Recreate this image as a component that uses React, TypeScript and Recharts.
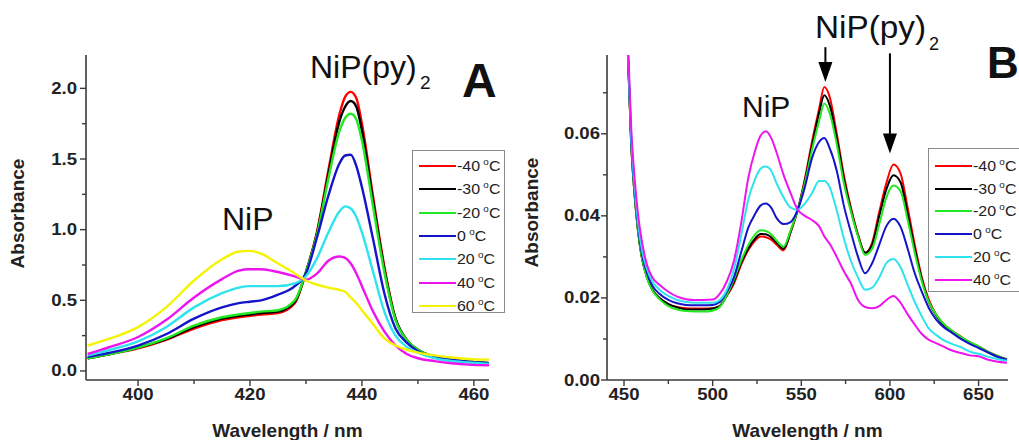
import React from 'react';
import { LineChart, Line, XAxis, YAxis, ReferenceLine, Label, Legend } from 'recharts';

// ---------------- Panel A data ----------------
const wavelengthsA = [391, 395, 400, 405, 410, 415, 418, 420, 422, 425, 428, 430, 432, 434, 436, 437, 438, 439, 440, 442, 444, 446, 448, 450, 453, 456, 459, 462.7];
const absA_m40 = [0.09, 0.12, 0.16, 0.22, 0.30, 0.36, 0.38, 0.39, 0.40, 0.41, 0.48, 0.70, 0.99, 1.42, 1.82, 1.94, 1.975, 1.93, 1.75, 1.23, 0.74, 0.37, 0.22, 0.15, 0.10, 0.08, 0.065, 0.055];
const absA_m30 = [0.09, 0.12, 0.165, 0.225, 0.31, 0.37, 0.39, 0.40, 0.41, 0.42, 0.49, 0.70, 0.98, 1.39, 1.77, 1.87, 1.91, 1.87, 1.70, 1.20, 0.72, 0.37, 0.22, 0.15, 0.10, 0.08, 0.065, 0.055];
const absA_m20 = [0.09, 0.12, 0.165, 0.23, 0.32, 0.38, 0.40, 0.41, 0.42, 0.43, 0.50, 0.70, 0.97, 1.36, 1.70, 1.79, 1.82, 1.78, 1.63, 1.16, 0.70, 0.36, 0.22, 0.15, 0.10, 0.08, 0.065, 0.055];
const absA_0 = [0.10, 0.13, 0.18, 0.26, 0.37, 0.45, 0.48, 0.49, 0.50, 0.54, 0.60, 0.69, 0.95, 1.24, 1.47, 1.525, 1.53, 1.45, 1.30, 0.93, 0.55, 0.30, 0.20, 0.14, 0.10, 0.08, 0.065, 0.055];
const absA_20 = [0.11, 0.15, 0.21, 0.31, 0.45, 0.55, 0.59, 0.60, 0.60, 0.60, 0.62, 0.67, 0.80, 0.98, 1.13, 1.165, 1.15, 1.09, 0.98, 0.70, 0.42, 0.25, 0.17, 0.13, 0.09, 0.07, 0.06, 0.05];
const absA_40 = [0.12, 0.17, 0.24, 0.36, 0.52, 0.65, 0.71, 0.72, 0.72, 0.70, 0.67, 0.645, 0.69, 0.78, 0.81, 0.80, 0.76, 0.69, 0.60, 0.42, 0.28, 0.18, 0.12, 0.09, 0.07, 0.055, 0.045, 0.04];
const absA_60 = [0.18, 0.23, 0.31, 0.45, 0.64, 0.79, 0.845, 0.85, 0.83, 0.76, 0.69, 0.64, 0.61, 0.59, 0.573, 0.56, 0.52, 0.48, 0.43, 0.33, 0.23, 0.18, 0.15, 0.13, 0.11, 0.095, 0.085, 0.08];

const xTicksA = [400, 410, 420, 430, 440, 450, 460];
const xMajorA = [400, 420, 440, 460];
const yTicksA = [0, 0.25, 0.5, 0.75, 1.0, 1.25, 1.5, 1.75, 2.0];
const yMajorA = [0, 0.5, 1.0, 1.5, 2.0];

// ---------------- Panel B data ----------------
const wavelengthsB = [450, 452, 454, 456, 458, 460, 463, 466, 470, 475, 480, 485, 490, 495, 500, 504, 508, 512, 516, 520, 524, 527, 530, 533, 536, 540, 544, 548, 552, 556, 560, 563, 566, 570, 574, 578, 582, 586, 590, 594, 598, 602, 606, 610, 614, 618, 622, 626, 630, 635, 640, 645, 650, 655, 660, 666];
const absB_m40 = [0.11, 0.082, 0.058, 0.045, 0.036, 0.030, 0.025, 0.022, 0.020, 0.0185, 0.0178, 0.0175, 0.0174, 0.0174, 0.0175, 0.018, 0.0205, 0.0235, 0.028, 0.0316, 0.034, 0.035, 0.0348, 0.0342, 0.033, 0.0316, 0.036, 0.0415, 0.049, 0.058, 0.066, 0.0714, 0.069, 0.060, 0.050, 0.042, 0.0355, 0.031, 0.0335, 0.041, 0.048, 0.0525, 0.0503, 0.042, 0.033, 0.025, 0.0195, 0.016, 0.0138, 0.012, 0.0106, 0.0092, 0.0082, 0.007, 0.006, 0.005];
const absB_m30 = [0.11, 0.082, 0.058, 0.045, 0.036, 0.030, 0.025, 0.022, 0.020, 0.0185, 0.0177, 0.0172, 0.0172, 0.0172, 0.0174, 0.018, 0.0207, 0.024, 0.0285, 0.032, 0.0345, 0.0356, 0.0355, 0.0348, 0.0335, 0.032, 0.0362, 0.0415, 0.0485, 0.057, 0.065, 0.0694, 0.067, 0.059, 0.049, 0.0415, 0.0352, 0.031, 0.033, 0.040, 0.0465, 0.0499, 0.0482, 0.0405, 0.032, 0.0245, 0.019, 0.0158, 0.0135, 0.0118, 0.0103, 0.009, 0.008, 0.0068, 0.0058, 0.0049];
const absB_m20 = [0.11, 0.082, 0.058, 0.045, 0.036, 0.030, 0.0248, 0.0218, 0.0197, 0.018, 0.0172, 0.0168, 0.0167, 0.0167, 0.0169, 0.0178, 0.0207, 0.0245, 0.029, 0.0328, 0.0355, 0.0365, 0.0363, 0.0355, 0.034, 0.0325, 0.0365, 0.0415, 0.048, 0.056, 0.063, 0.0674, 0.065, 0.0575, 0.048, 0.041, 0.035, 0.0305, 0.032, 0.038, 0.0445, 0.0474, 0.046, 0.039, 0.031, 0.024, 0.019, 0.016, 0.0138, 0.012, 0.0105, 0.0093, 0.0082, 0.007, 0.006, 0.005];
const absB_0 = [0.11, 0.082, 0.059, 0.046, 0.037, 0.031, 0.026, 0.023, 0.021, 0.0195, 0.0187, 0.0183, 0.0182, 0.0182, 0.0183, 0.019, 0.0215, 0.025, 0.031, 0.037, 0.0405, 0.0425, 0.043, 0.042, 0.0395, 0.038, 0.0385, 0.0415, 0.047, 0.054, 0.058, 0.059, 0.0565, 0.051, 0.0425, 0.036, 0.030, 0.026, 0.0285, 0.033, 0.0375, 0.0393, 0.0373, 0.032, 0.026, 0.0215, 0.0175, 0.0148, 0.013, 0.0115, 0.010, 0.0088, 0.0078, 0.0068, 0.0058, 0.005];
const absB_20 = [0.11, 0.083, 0.060, 0.047, 0.038, 0.032, 0.027, 0.024, 0.022, 0.0205, 0.0195, 0.019, 0.0188, 0.0188, 0.0188, 0.0195, 0.022, 0.027, 0.035, 0.0438, 0.049, 0.0515, 0.052, 0.051, 0.048, 0.0445, 0.042, 0.0415, 0.043, 0.0455, 0.0485, 0.0485, 0.047, 0.0413, 0.0345, 0.029, 0.025, 0.022, 0.0225, 0.025, 0.0285, 0.0295, 0.0275, 0.0232, 0.019, 0.0155, 0.0125, 0.011, 0.0098, 0.0088, 0.008, 0.0069, 0.0064, 0.0057, 0.0052, 0.0047];
const absB_40 = [0.11, 0.085, 0.062, 0.049, 0.040, 0.034, 0.028, 0.025, 0.0232, 0.0215, 0.0203, 0.0197, 0.0195, 0.0195, 0.0196, 0.021, 0.024, 0.029, 0.038, 0.049, 0.056, 0.0595, 0.0606, 0.059, 0.0555, 0.050, 0.0455, 0.0415, 0.040, 0.039, 0.0375, 0.035, 0.0332, 0.030, 0.0265, 0.0235, 0.0195, 0.0178, 0.0175, 0.018, 0.0195, 0.0205, 0.0188, 0.016, 0.0135, 0.0112, 0.0098, 0.009, 0.0082, 0.0072, 0.0066, 0.006, 0.0058, 0.005, 0.0045, 0.0042];

const xTicksB = [450, 475, 500, 525, 550, 575, 600, 625, 650];
const xMajorB = [450, 500, 550, 600, 650];
const yTicksB = [0, 0.01, 0.02, 0.03, 0.04, 0.05, 0.06, 0.07];
const yMajorB = [0, 0.02, 0.04, 0.06];

const tempLabelsA = ['-40', '-30', '-20', '0', '20', '40', '60'];
const tempLabelsB = ['-40', '-30', '-20', '0', '20', '40'];
const colors = ['#ff0000', '#000000', '#22e822', '#1414c8', '#2ee3ee', '#ee14ee', '#f4f400'];

const seriesA = [absA_m40, absA_m30, absA_m20, absA_0, absA_20, absA_40, absA_60];
const seriesB = [absB_m40, absB_m30, absB_m20, absB_0, absB_20, absB_40];

const buildRows = (xs: number[], series: number[][]) =>
  xs.map((x, i) => {
    const row: Record<string, number> = { x };
    series.forEach((s, k) => {
      row['s' + k] = s[i];
    });
    return row;
  });

const dataA = buildRows(wavelengthsA, seriesA);
const dataB = buildRows(wavelengthsB, seriesB);

const FONT = '"Liberation Sans", Arial, Helvetica, sans-serif';
const AXIS = '#3a3a3a';
const isMajor = (list: number[], v: number) => list.some((m) => Math.abs(m - v) < 1e-9);

const makeXTick = (majors: number[]) => (props: any) => {
  const { x, y, payload } = props;
  const v = payload.value;
  const major = isMajor(majors, v);
  return (
    <g>
      <line x1={x} y1={y} x2={x} y2={y + (major ? 6 : 4)} stroke={AXIS} strokeWidth={1.4} />
      {major && (
        <g transform={`translate(${x},${y + 20}) scale(1.16,1)`}>
          <text x={0} y={0} textAnchor="middle" fontSize={16} fontWeight="bold" fontFamily={FONT} fill="#222">
            {String(v)}
          </text>
        </g>
      )}
    </g>
  );
};

const makeYTick = (majors: number[], digits: number, gap: number) => (props: any) => {
  const { x, y, payload } = props;
  const v = payload.value;
  const major = isMajor(majors, v);
  return (
    <g>
      <line x1={x - (major ? 6 : 4)} y1={y} x2={x} y2={y} stroke={AXIS} strokeWidth={1.4} />
      {major && (
        <g transform={`translate(${x - gap},${y + 5.5}) scale(1.16,1)`}>
          <text x={0} y={0} textAnchor="end" fontSize={16} fontWeight="bold" fontFamily={FONT} fill="#222">
            {v.toFixed(digits)}
          </text>
        </g>
      )}
    </g>
  );
};

const makeYTitle = (dx: number, dy: number) => (props: any) => {
  const vb = props.viewBox || {};
  const cx = vb.x + dx;
  const cy = vb.y + vb.height / 2 + dy;
  return (
    <text
      transform={`translate(${cx},${cy}) rotate(-90)`}
      textAnchor="middle"
      dominantBaseline="central"
      fontSize={19}
      fontWeight="bold"
      fontFamily={FONT}
      fill="#222"
    >
      Absorbance
    </text>
  );
};

const makeXTitle = () => (props: any) => {
  const vb = props.viewBox || {};
  return (
    <text x={vb.x + vb.width / 2} y={vb.y + 57} textAnchor="middle" fontSize={19} fontWeight="bold" fontFamily={FONT} fill="#222">
      Wavelength / nm
    </text>
  );
};

const makeLegend = (labels: string[], first: number, step: number) => () => (
  <div
    style={{
      width: '100%',
      height: '100%',
      boxSizing: 'border-box',
      border: '1px solid #8a8a8a',
      background: '#fff',
      position: 'relative',
      fontFamily: FONT,
    }}
  >
    {labels.map((lab, i) => (
      <div
        key={lab}
        style={{
          position: 'absolute',
          left: 6,
          top: first + i * step - 9,
          height: 18,
          display: 'flex',
          alignItems: 'center',
          whiteSpace: 'nowrap',
        }}
      >
        <span style={{ display: 'inline-block', width: 37, height: 0, borderTop: `2.5px solid ${colors[i]}` }} />
        <span style={{ marginLeft: 1, fontSize: 14.5, color: '#222', display: 'inline-block', transform: 'scaleX(1.1)', transformOrigin: 'left center' }}>
          {lab}
          <span style={{ fontSize: 9, position: 'relative', top: -6, marginLeft: 3 }}>o</span>C
        </span>
      </div>
    ))}
  </div>
);

const Arrow = (props: any) => {
  const { x1, y1, x2, y2 } = props;
  const head = 20;
  const hw = 7;
  return (
    <g>
      <line x1={x1} y1={y1} x2={x2} y2={y2 - head + 2} stroke="#000" strokeWidth={2} />
      <polygon points={`${x2 - hw},${y2 - head} ${x2 + hw},${y2 - head} ${x2},${y2}`} fill="#000" />
    </g>
  );
};

const txt = { fontFamily: FONT, fill: '#111' } as const;

export default function App() {
  return (
    <div style={{ position: 'absolute', left: 0, top: 0, width: 1019, height: 440, background: '#fff', overflow: 'hidden' }}>
      <div style={{ position: 'absolute', left: 0, top: 0 }}>
        <LineChart width={510} height={440} data={dataA} margin={{ top: 55, right: 21, bottom: 0, left: 6 }}>
          <XAxis
            dataKey="x"
            type="number"
            domain={[390.7, 462.7]}
            allowDataOverflow
            ticks={xTicksA}
            interval={0}
            height={60}
            tickSize={0}
            tickMargin={0}
            tickLine={false}
            axisLine={{ stroke: AXIS, strokeWidth: 1.6 }}
            tick={makeXTick(xMajorA)}
          >
            <Label content={makeXTitle()} />
          </XAxis>
          <YAxis
            type="number"
            domain={[-0.064, 2.236]}
            allowDataOverflow
            ticks={yTicksA}
            interval={0}
            width={80}
            tickSize={0}
            tickMargin={0}
            tickLine={false}
            axisLine={{ stroke: AXIS, strokeWidth: 1.6 }}
            tick={makeYTick(yMajorA, 1, 9)}
          >
            <Label content={makeYTitle(11, -4)} />
          </YAxis>
          <Legend
            layout="vertical"
            align="center"
            verticalAlign="middle"
            content={makeLegend(tempLabelsA, 15, 23.3)}
            wrapperStyle={{ position: 'absolute', left: 412, top: 150, width: 93, height: 163 }}
          />
          {seriesA.map((_, k) => (
            <Line
              key={k}
              dataKey={'s' + k}
              type="monotone"
              stroke={colors[k]}
              strokeWidth={2.4}
              dot={false}
              isAnimationActive={false}
              legendType="line"
            />
          ))}
        </LineChart>
      </div>
      <div style={{ position: 'absolute', left: 510, top: 0 }}>
        <LineChart width={509} height={440} data={dataB} margin={{ top: 55, right: 11, bottom: 0, left: 17 }}>
          <XAxis
            dataKey="x"
            type="number"
            domain={[440.4, 666.6]}
            allowDataOverflow
            ticks={xTicksB}
            interval={0}
            height={60}
            tickSize={0}
            tickMargin={0}
            tickLine={false}
            axisLine={{ stroke: AXIS, strokeWidth: 1.6 }}
            tick={makeXTick(xMajorB)}
          >
            <Label content={makeXTitle()} />
          </XAxis>
          <YAxis
            type="number"
            domain={[0, 0.0792]}
            allowDataOverflow
            ticks={yTicksB}
            interval={0}
            width={80}
            tickSize={0}
            tickMargin={0}
            tickLine={false}
            axisLine={{ stroke: AXIS, strokeWidth: 1.6 }}
            tick={makeYTick(yMajorB, 2, 7)}
          >
            <Label content={makeYTitle(4.5, -5)} />
          </YAxis>
          <Legend
            layout="vertical"
            align="center"
            verticalAlign="middle"
            content={makeLegend(tempLabelsB, 17, 22.7)}
            wrapperStyle={{ position: 'absolute', left: 418, top: 148, width: 100, height: 144 }}
          />
          {seriesB.map((_, k) => (
            <Line
              key={k}
              dataKey={'s' + k}
              type="monotone"
              stroke={colors[k]}
              strokeWidth={2}
              dot={false}
              isAnimationActive={false}
              legendType="line"
            />
          ))}
          <ReferenceLine
            ifOverflow="visible"
            segment={[{ x: 563.6, y: 0.0811 }, { x: 563.6, y: 0.0726 }]}
            shape={Arrow}
          />
          <ReferenceLine
            ifOverflow="visible"
            segment={[{ x: 600, y: 0.0796 }, { x: 600, y: 0.0552 }]}
            shape={Arrow}
          />
        </LineChart>
      </div>
      <svg width={1019} height={440} style={{ position: 'absolute', left: 0, top: 0, pointerEvents: 'none' }}>
        <text x={310} y={78} fontSize={32} {...txt}>NiP(py)</text>
        <text x={420} y={89} fontSize={19} {...txt}>2</text>
        <text x={462} y={97} fontSize={48} fontWeight="bold" {...txt}>A</text>
        <text x={222} y={230} fontSize={32} {...txt}>NiP</text>
        <text x={815} y={38} fontSize={31} textLength={111} lengthAdjust="spacingAndGlyphs" {...txt}>NiP(py)</text>
        <text x={929} y={50} fontSize={18} {...txt}>2</text>
        <text x={987} y={78} fontSize={44} fontWeight="bold" {...txt}>B</text>
        <text x={742} y={117} fontSize={30} {...txt}>NiP</text>
      </svg>
    </div>
  );
}
